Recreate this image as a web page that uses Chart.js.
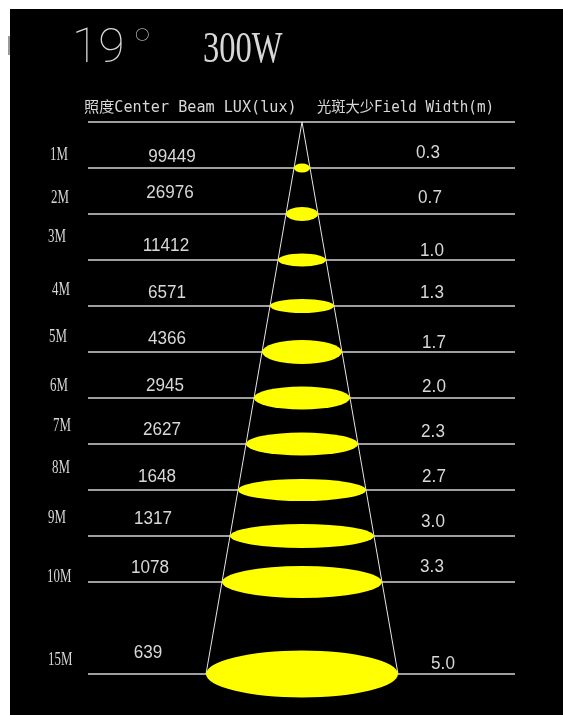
<!DOCTYPE html>
<html>
<head>
<meta charset="utf-8">
<script src="https://cdn.jsdelivr.net/npm/chart.js@4/dist/chart.umd.min.js"></script>
<style>
html,body{margin:0;padding:0;background:#fff;}
canvas{display:block;}
</style>
</head>
<body>
<canvas id="c" width="563" height="715"></canvas>
<script>
// ---- data ----
const beamAngle = '19';
const power = '300W';
const distances = ['1M','2M','3M','4M','5M','6M','7M','8M','9M','10M','15M'];
const rowIndex = [1,2,3,4,5,6,7,8,9,10,12];
const centerLux = [99449,26976,11412,6571,4366,2945,2627,1648,1317,1078,639];
const fieldWidth = ['0.3','0.7','1.0','1.3','1.7','2.0','2.3','2.7','3.0','3.3','5.0'];
const headerLux = '照度Center Beam LUX(lux)';
const headerField = '光斑大少Field Width(m)';

// ---- layout / style ----
const coneSlope = 8 / 46;           // half-width per row (x units)
const lineFrom = -4.652, lineTo = 4.630;
const spotHeightPx = [9,14,13,14,24,23,23,22,24,32,47];
const luxCenterX = [172,170,166,167,167,165,162,157,153,150,148];
const luxDy = [-11,-21,-14,-13,-13,-12,-14,-13,-17,-14,-21];
const fieldCenterX = [428,430,432,432,434,434,433,434,433,432,443];
const fieldDy = [-15,-16,-9,-13,-9,-11,-12,-13,-14,-15,-10];
const labelLeftX = [50,51,48,52,49,50,53,52,48,47,48];
const labelDy = [-13,-16,-23,-16,-15,-12,-18,-22,-18,-5,-14];

const lineColor = '#d4d4d4';
const textColor = '#d8d8d8';

const datasets = [];
// header line (row 0) + one line per distance
[0].concat(rowIndex).forEach(r => {
  datasets.push({
    data: [{x: lineFrom, y: r}, {x: lineTo, y: r}],
    showLine: true, borderColor: lineColor, borderWidth: 1.6,
    pointRadius: 0, order: 2
  });
});
// cone
const last = rowIndex[rowIndex.length - 1];
datasets.push({
  data: [{x: -coneSlope * last, y: last}, {x: 0, y: 0}, {x: coneSlope * last, y: last}],
  showLine: true, borderColor: '#e6e6e6', borderWidth: 1,
  pointRadius: 0, order: 1
});

function txt(ctx, s, x, y, font, align, sx, base) {
  ctx.save();
  ctx.font = font;
  ctx.textAlign = align || 'left';
  ctx.textBaseline = base || 'middle';
  ctx.translate(x, y);
  ctx.scale(sx || 1, 1);
  ctx.fillText(s, 0, 0);
  ctx.restore();
}

const bg = {
  id: 'bg',
  beforeDraw(chart) {
    const ctx = chart.ctx;
    ctx.save();
    ctx.fillStyle = '#fff';
    ctx.fillRect(0, 0, chart.width, chart.height);
    ctx.fillStyle = '#000';
    ctx.fillRect(10, 9, chart.width - 10, chart.height - 9);
    ctx.fillStyle = '#999';
    ctx.fillRect(8, 36, 2, 19);
    ctx.restore();
  }
};

const spots = {
  id: 'spots',
  afterDatasetsDraw(chart) {
    const ctx = chart.ctx;
    const xs = chart.scales.x, ys = chart.scales.y;
    ctx.save();
    rowIndex.forEach((r, i) => {
      const cx = xs.getPixelForValue(0);
      const cy = ys.getPixelForValue(r);
      const rx = xs.getPixelForValue(coneSlope * r) - cx;
      ctx.beginPath();
      ctx.ellipse(cx, cy, rx, spotHeightPx[i] / 2, 0, 0, Math.PI * 2);
      ctx.fillStyle = '#ffff00';
      ctx.fill();
    });
    // texts
    ctx.fillStyle = textColor;
    // title
    txt(ctx, beamAngle, 72, 62, '100 48px Roboto, Inter', 'left', 1, 'alphabetic');
    txt(ctx, '°', 133, 61, '200 45px Lato', 'left', 1, 'alphabetic');
    txt(ctx, power, 203, 62, '44px "Liberation Serif"', 'left', 0.74, 'alphabetic');
    // header
    const hy = ys.getPixelForValue(0) - 14;
    txt(ctx, headerLux, 84, hy, '15px "DejaVu Sans Mono", "Noto Sans CJK SC"', 'left', 1.01);
    txt(ctx, headerField, 317, hy, '15px "DejaVu Sans Mono", "Noto Sans CJK SC"', 'left', 0.95);
    rowIndex.forEach((r, i) => {
      const y = ys.getPixelForValue(r);
      txt(ctx, distances[i], labelLeftX[i], y + labelDy[i], '19px "Liberation Serif"', 'left', 0.68);
      txt(ctx, String(centerLux[i]), luxCenterX[i], y + luxDy[i], '18px "Liberation Sans"', 'center', 0.95);
      txt(ctx, fieldWidth[i], fieldCenterX[i], y + fieldDy[i], '18px "Liberation Sans"', 'center', 0.95);
    });
    ctx.restore();
  }
};

new Chart(document.getElementById('c'), {
  type: 'scatter',
  data: { datasets },
  options: {
    responsive: false,
    animation: false,
    layout: { padding: 0 },
    plugins: { legend: { display: false }, tooltip: { enabled: false } },
    scales: {
      x: { type: 'linear', display: false, min: -302 / 46, max: 261 / 46 },
      y: { type: 'linear', display: false, reverse: true, min: -122 / 46, max: 593 / 46 }
    }
  },
  plugins: [bg, spots]
});
</script>
</body>
</html>
